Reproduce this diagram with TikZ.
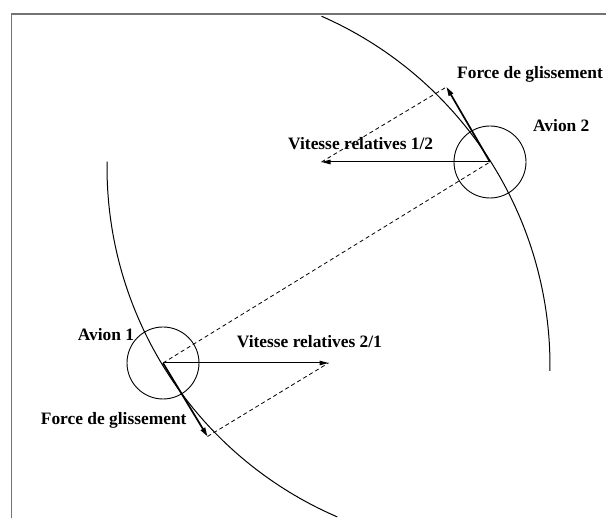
\documentclass[tikz,border=0pt]{standalone}
\usepackage{fontspec}
\setmainfont{Liberation Serif}
\usetikzlibrary{arrows.meta}
\tikzset{
  lbl/.style={inner sep=0pt, anchor=base west, font=\fontsize{17.4}{20}\selectfont\bfseries},
  plane/.style={draw, circle, minimum size=72pt, inner sep=0pt, line width=0.9pt},
  vel/.style={line width=1pt, -{Triangle[length=9pt,width=4.5pt]}},
  force/.style={line width=1.7pt, -{Triangle[length=9pt,width=5pt]}},
  proj/.style={line width=0.8pt, dash pattern=on 4pt off 3pt},
  orbit/.style={line width=1pt},
  frame/.style={line width=1.6pt, draw=black!55}
}
\begin{document}
\begin{tikzpicture}[x=1pt,y=1pt]
\useasboundingbox (0,0) rectangle (606,518);
% frame
\draw[frame] (606,504) -- (11.5,504) -- (11.5,0);
% centres and tips
\coordinate (A1) at (163,155);
\coordinate (A2) at (490,356);
\coordinate (V1) at (328.5,155);
\coordinate (F1) at (207.5,81.5);
\coordinate (V2) at (321.5,356);
\coordinate (F2) at (446.5,431);
% arcs
\draw[orbit] (488,351) ++(179.2:381) arc[start angle=179.2, end angle=246.7, radius=381];
\draw[orbit] (168,152) ++(66.3:382) arc[start angle=66.3, end angle=-0.75, radius=382];
% planes
\node[plane] (p1) at (A1) {};
\node[plane] (p2) at (A2) {};
% dashed projections
\draw[proj] (A1) -- (A2);
\draw[proj] (F1) -- (V1);
\draw[proj] (V2) -- (F2);
% arrows
\draw[vel] (A1) -- (V1);
\draw[vel] (A2) -- (V2);
\draw[force] (A1) -- (F1);
\draw[force] (A2) -- (F2);
% labels
\node[lbl] (t1) at (457,439) {Force de glissement};
\node[lbl] (t2) at (533,386) {Avion 2};
\node[lbl] (t3) at (288,368) {Vitesse relatives 1/2};
\node[lbl] (t4) at (77.7,177.3) {Avion 1};
\node[lbl] (t5) at (236.7,170.7) {Vitesse relatives 2/1};
\node[lbl] (t6) at (40.7,93) {Force de glissement};
\end{tikzpicture}
\end{document}
